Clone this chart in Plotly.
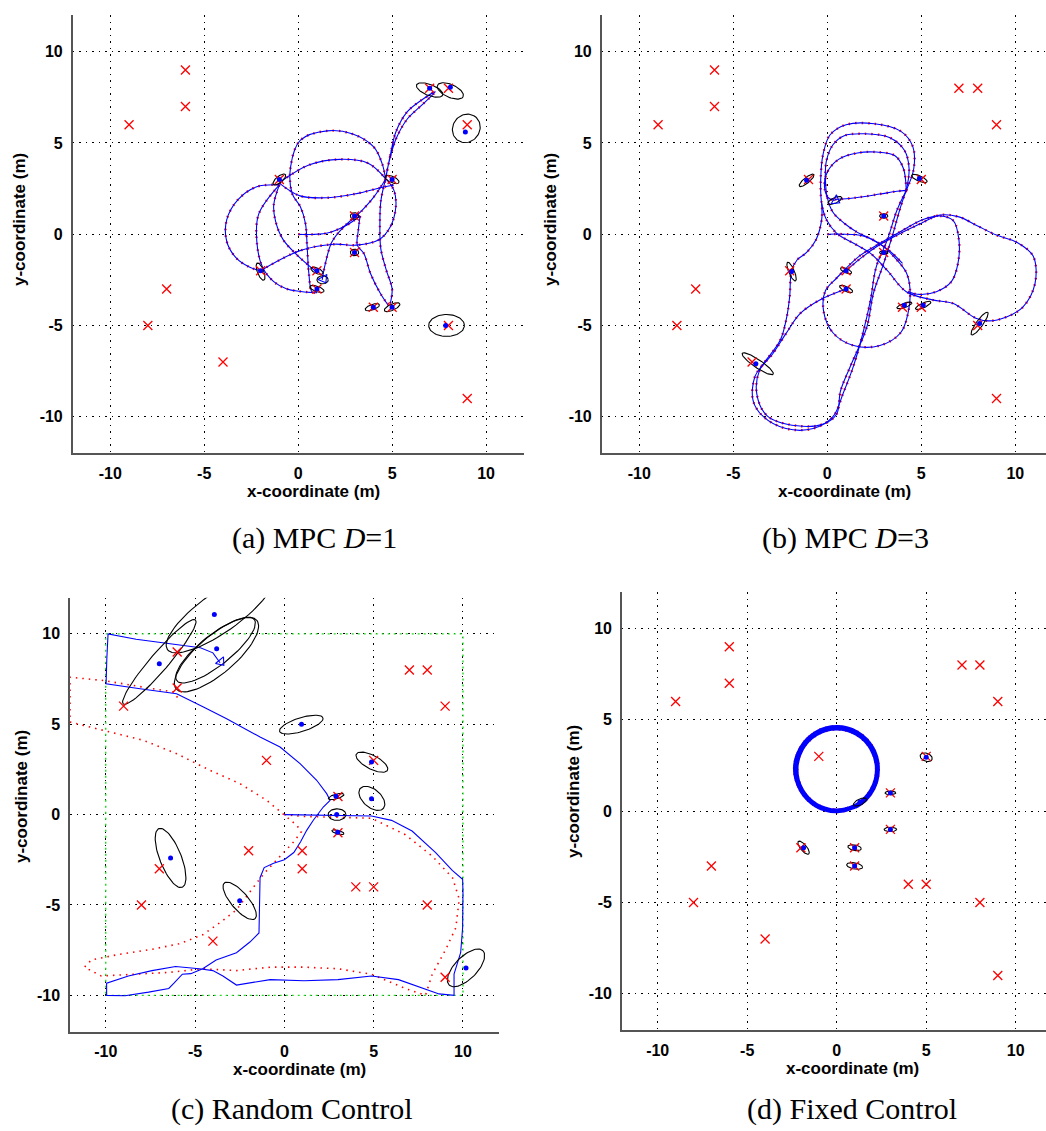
import numpy as np
import plotly.graph_objects as go

W, H = 1046, 1131

tick_vals = [-10, -5, 0, 5, 10]
tick_text = ["-10", "-5", "0", "5", "10"]

# true landmark positions (red crosses), shared by all panels
land_x = [-9, -6, -6, 7, 8, 9, -1, 5, 3, 3, -2, 1, 1, -7, -8, 4, 5, 8, -4, 9]
land_y = [6, 9, 7, 8, 8, 6, 3, 3, 1, -1, -2, -2, -3, -3, -5, -4, -4, -5, -7, -9]

# ---------------- (a) MPC D=1 ----------------
a_est_x = [7.0, 8.1, 8.9, 5.0, -1.0, 3.0, 3.0, -2.0, 1.0, 1.0, 4.0, 5.0, 7.85]
a_est_y = [8.0, 8.05, 5.6, 3.0, 3.0, 1.0, -1.0, -2.0, -2.0, -3.0, -4.0, -4.0, -5.0]
# cx, cy, semi-major, semi-minor, angle(deg)
a_ellipses = [
    (7.0, 7.9, 0.75, 0.3, -22), (8.1, 7.85, 0.75, 0.35, -25), (8.95, 5.8, 0.8, 0.72, 60),
    (5.0, 3.0, 0.4, 0.17, -25), (-1.0, 3.0, 0.42, 0.17, 40), (3.0, 1.0, 0.22, 0.18, 0),
    (3.0, -1.0, 0.22, 0.18, 0), (-2.0, -2.05, 0.5, 0.17, -70), (1.0, -2.0, 0.35, 0.15, -25),
    (1.0, -3.0, 0.4, 0.15, -20), (3.95, -4.0, 0.4, 0.15, 20), (5.0, -4.0, 0.45, 0.17, 25),
    (7.9, -5.0, 0.95, 0.6, 0), (1.3, -2.5, 0.3, 0.22, 0),
]
a_robot = [(1.35, -2.45, 150)]
a_path = [
    [(0, 0), (1.5, 0.05), (2.5, 0.45), (3.3, 1.0)],
    [(3.3, 1.0), (3.2, 0.2), (3.15, -0.6), (3.5, -1.06), (3.85, -2.15), (4.38, -3.25), (4.8, -3.9)],
    [(4.9, -3.8), (5.0, -3.0), (4.7, -2.0), (4.4, -0.8), (4.35, 0.5), (4.4, 1.8), (4.65, 3.0)],
    [(4.65, 3.0), (4.9, 4.3), (5.2, 5.6), (5.8, 6.7), (6.5, 7.3), (7.3, 7.8), (6.5, 7.0), (5.8, 6.3),
     (5.2, 5.2), (4.8, 3.8), (4.65, 3.0)],
    [(4.65, 3.05), (4.47, 3.87), (4.02, 4.78), (2.87, 5.5), (1.54, 5.66), (0.12, 5.15), (-0.4, 3.7),
     (-0.32, 2.23), (0.12, 1.5), (0.39, 0.58), (0.48, -0.69), (0.57, -2.15), (0.74, -3.16), (1.0, -3.2)],
    [(-0.9, 2.9), (0.6, 3.8), (2.2, 4.1), (3.7, 3.9), (4.65, 3.05)],
    [(-1.0, 2.8), (0.1, 2.1), (1.6, 2.0), (3.0, 2.2), (4.6, 2.6), (5.1, 2.7)],
    [(-1.0, 2.7), (-2.2, 2.6), (-3.2, 1.9), (-3.8, 0.8), (-3.8, -0.4), (-3.3, -1.3), (-2.6, -1.8), (-2.0, -2.0)],
    [(-2.0, -2.0), (0.1, -0.9), (1.9, -0.55), (3.1, -0.6), (4.3, -0.3), (4.9, 0.4), (5.2, 1.5), (5.1, 2.4), (4.7, 3.0)],
    [(-1.0, 2.7), (-1.3, 1.6), (-1.2, 0.7), (-0.8, -0.3), (0.0, -1.2), (0.9, -2.0)],
    [(-1.0, 2.7), (-2.1, 1.1), (-2.2, -0.4), (-1.9, -1.8), (-1.3, -2.6), (-0.6, -3.0), (0.8, -3.2)],
    [(3.14, 1.04), (2.43, 0.4), (1.8, -0.42), (1.45, -1.6), (1.28, -2.5)],
    [(4.65, 3.0), (4.0, 2.0), (3.4, 1.3), (3.1, 1.0)],
]

# ---------------- (b) MPC D=3 ----------------
b_est_x = [-1.1, 4.9, 3.0, 3.0, -1.9, 1.0, 1.0, 4.1, 5.1, 8.1, -3.8]
b_est_y = [2.95, 3.05, 1.0, -1.0, -2.05, -2.0, -3.0, -3.9, -3.9, -4.9, -7.1]
b_ellipses = [
    (-1.1, 2.95, 0.5, 0.15, 40), (0.4, 1.85, 0.4, 0.15, 25), (4.9, 3.05, 0.45, 0.15, -25),
    (3.0, 1.0, 0.22, 0.12, 0), (3.0, -1.0, 0.22, 0.1, 0), (-1.9, -2.05, 0.55, 0.15, -68),
    (1.0, -2.0, 0.32, 0.12, -25), (1.0, -3.0, 0.38, 0.13, -25), (4.1, -3.9, 0.42, 0.12, 20),
    (5.1, -3.9, 0.45, 0.13, 25), (8.1, -4.9, 0.75, 0.18, 55), (-3.7, -7.1, 1.0, 0.22, -35),
]
b_robot = [(0.45, 1.85, 120)]
b_path = [
    [(4.2, 2.4), (4.6, 3.6), (4.55, 4.8), (3.9, 5.65), (2.5, 6.05), (1.0, 6.0), (0.15, 5.45), (-0.22, 4.4),
     (-0.35, 3.0), (-0.3, 1.7), (-0.05, 0.8), (0.5, 0.05), (1.4, -0.5), (2.3, -1.05), (3.2, -2.0),
     (4.2, -3.15), (5.6, -3.6), (6.7, -3.8), (7.9, -4.6), (8.6, -4.75), (9.5, -4.55), (10.4, -4.0),
     (11.05, -2.7), (10.95, -1.2), (10.1, -0.45), (9.0, -0.05), (8.0, 0.45), (7.0, 0.95), (6.0, 1.05),
     (5.0, 0.6), (3.9, 0.05), (2.6, -0.7), (1.8, -1.3), (1.0, -2.0)],
    [(0, 0), (1.9, -0.1), (2.9, -0.6), (3.6, -1.3), (4.2, -2.1), (4.4, -3.0), (4.3, -4.3), (3.9, -5.4),
     (2.8, -6.1), (1.4, -6.1), (0.3, -5.4), (-0.2, -4.2), (-0.1, -3.1), (0.5, -2.4), (1.7, -1.2),
     (2.8, -0.5), (3.9, 0.15), (5.1, 0.8), (6.0, 1.0), (6.7, 0.75), (7.0, -0.3), (6.95, -1.6),
     (6.6, -2.6), (5.8, -3.15), (4.9, -3.3), (4.3, -3.15)],
    [(4.2, 2.4), (4.35, 3.6), (4.1, 4.6), (3.3, 5.3), (2.0, 5.5), (0.9, 5.4), (0.3, 4.9), (-0.05, 4.0),
     (-0.1, 3.0), (0.0, 2.0), (0.3, 1.2), (0.9, 0.6), (1.6, 0.1), (2.4, -0.3), (3.3, -0.9), (4.0, -1.6)],
    [(4.2, 2.4), (4.05, 3.6), (3.6, 4.3), (2.6, 4.5), (1.6, 4.45), (0.6, 4.1), (0.0, 3.4), (-0.15, 2.6),
     (0.05, 2.0), (0.4, 1.85)],
    [(0.4, 1.9), (1.5, 2.0), (2.8, 2.2), (3.7, 2.35), (4.2, 2.4)],
    [(4.2, 2.4), (3.7, 1.3), (3.2, -0.3), (2.6, -1.8), (2.3, -3.6), (1.9, -5.4), (1.4, -7.2), (0.85, -8.7),
     (0.3, -10.0), (-0.75, -10.65), (-2.2, -10.65), (-3.4, -10.0), (-3.95, -9.1), (-3.85, -7.8),
     (-3.4, -7.1), (-2.5, -5.8), (-2.15, -4.5), (-2.0, -3.4), (-1.9, -2.0), (-1.6, -1.4), (-1.1, -1.0),
     (-0.6, -0.3), (-0.3, 0.8), (-0.3, 1.7)],
    [(4.2, 2.4), (3.9, 1.5), (3.5, 0.05), (3.0, -1.6), (2.45, -3.25), (2.1, -5.1), (1.2, -7.3), (0.7, -8.6),
     (0.5, -9.85), (-0.2, -10.4), (-1.6, -10.5), (-3.2, -9.95), (-3.75, -8.75), (-3.6, -7.45),
     (-2.9, -6.55), (-2.2, -5.45), (-1.45, -4.35), (-0.4, -3.6), (1.0, -3.0)],
]

# ---------------- (c) Random Control ----------------
c_est_x = [-7.0, -3.92, -3.79, 0.96, 4.88, 4.88, 2.89, 2.93, 2.99, -6.37, -2.5, 10.17]
c_est_y = [8.35, 11.07, 9.17, 5.0, 2.91, 0.87, 1.01, 0.0, -0.97, -2.4, -4.77, -8.48]
c_ellipses = [
    (-7.0, 8.45, 3.08, 0.5, 49), (-3.6, 11.2, 3.6, 1.1, 35), (-3.8, 8.85, 2.95, 1.05, 40),
    (-3.85, 9.1, 2.75, 0.85, 38), (0.95, 4.98, 1.27, 0.38, 17), (4.9, 2.9, 0.98, 0.38, -27),
    (4.9, 0.9, 0.85, 0.5, -40), (2.9, 1.0, 0.45, 0.13, 15), (2.95, 0.0, 0.5, 0.32, 0),
    (3.0, -0.97, 0.35, 0.1, -15), (-6.37, -2.4, 1.75, 0.6, -68), (-2.5, -4.77, 1.31, 0.48, -49),
    (10.17, -8.48, 1.34, 0.62, 45),
]
c_robot = [(-3.55, 8.45, 140)]
c_boundary_x = [-10, 10, 10, -10, -10]
c_boundary_y = [-10, -10, 10, 10, -10]
c_est_path = [[
    (0, 0), (1.85, -0.04), (3.0, -0.08), (4.88, -0.08), (6.0, -0.32), (7.15, -0.91), (8.47, -2.1),
    (9.4, -3.09), (9.98, -3.58), (10.0, -4.28), (9.98, -6.26), (9.87, -7.64), (9.5, -8.83), (9.5, -10.0),
    (8.66, -9.92), (7.52, -9.52), (6.39, -9.13), (4.88, -8.93), (3.0, -9.13), (1.1, -9.19), (-0.79, -9.13),
    (-2.68, -9.43), (-3.44, -8.93), (-4.0, -8.63), (-4.76, -8.53), (-6.09, -8.4), (-7.41, -8.63),
    (-8.73, -8.93), (-9.95, -9.33), (-9.95, -10.0), (-8.92, -10.02), (-7.6, -9.82), (-6.47, -9.62),
    (-6.18, -9.33), (-5.71, -8.83), (-5.24, -8.8), (-4.57, -8.53), (-3.82, -8.04), (-2.68, -7.64),
    (-1.93, -7.05), (-1.42, -6.55), (-1.36, -3.49), (-1.13, -2.93), (-0.6, -2.69), (0.0, -2.5),
    (0.53, -2.1), (0.91, -1.5), (1.25, -0.87), (1.62, -0.31), (2.18, 0.42), (2.56, 0.79), (2.37, 1.16),
    (1.81, 1.9), (0.88, 2.82), (-0.24, 3.74), (-1.36, 4.29), (-3.23, 5.3), (-4.53, 5.95), (-6.03, 6.69),
    (-8.08, 6.96), (-9.98, 7.24), (-9.94, 8.6), (-9.87, 10.0), (-8.3, 9.7), (-4.7, 9.23), (-4.0, 8.95),
    (-3.6, 8.4)]]
c_true_path = [[
    (0, 0), (1.0, -0.1), (3.0, -0.15), (4.88, -0.2), (6.77, -1.11), (8.28, -2.3), (9.41, -3.49),
    (9.79, -4.67), (9.6, -6.26), (9.04, -7.45), (8.28, -8.83), (7.9, -10.0), (6.77, -9.62), (4.88, -8.83),
    (3.0, -8.53), (1.1, -8.44), (-0.79, -8.44), (-2.68, -8.63), (-4.57, -8.53), (-6.47, -8.73),
    (-8.36, -8.83), (-10.25, -8.93), (-11.19, -8.44), (-10.8, -8.04), (-9.3, -7.74), (-7.41, -7.45),
    (-5.9, -7.15), (-4.57, -6.65), (-3.44, -5.86), (-2.68, -5.27), (-1.93, -4.28), (-1.17, -3.29),
    (-0.23, -2.3), (0.53, -1.5), (0.95, -0.95), (0.7, -0.6), (0.13, -0.13), (-0.99, 0.79), (-2.48, 1.71),
    (-4.16, 2.45), (-6.03, 3.37), (-7.89, 4.11), (-10.13, 4.66), (-12.0, 5.12), (-12.0, 7.6),
    (-10.13, 7.42), (-7.89, 7.05), (-6.21, 6.78), (-5.93, 6.41)]]

# ---------------- (d) Fixed Control ----------------
d_est_x = [5.0, 3.0, 3.0, 1.0, 1.0, -1.85, 1.3]
d_est_y = [2.95, 1.0, -1.0, -2.0, -3.0, -2.0, 0.5]
d_ellipses = [
    (5.0, 2.95, 0.35, 0.22, -20), (3.0, 1.0, 0.3, 0.1, 0), (3.0, -1.0, 0.35, 0.12, 0),
    (1.0, -2.0, 0.38, 0.15, -10), (1.0, -3.0, 0.45, 0.17, -10), (-1.85, -2.0, 0.45, 0.17, -50),
    (1.3, 0.5, 0.4, 0.16, 25),
]
d_robot = []
d_path = [[
    (0.0, 0.0), (1.18, 0.26), (2.04, 1.12),
    (2.35, 2.3), (2.04, 3.48), (1.18, 4.34), (0.0, 4.65), (-1.18, 4.34), (-2.04, 3.48), (-2.35, 2.3),
    (-2.04, 1.12), (-1.18, 0.26), (0.0, -0.05), (1.13, 0.3), (1.95, 1.13),
    (2.25, 2.25), (1.95, 3.38), (1.13, 4.2), (0.0, 4.5), (-1.13, 4.2), (-1.95, 3.38), (-2.25, 2.25),
    (-1.95, 1.13), (-1.13, 0.3), (-0.05, 0.02), (1.1, 0.32), (1.96, 1.17),
    (2.27, 2.32), (1.96, 3.5), (1.1, 4.35), (-0.05, 4.6), (-1.2, 4.3), (-2.05, 3.45), (-2.38, 2.32),
    (-2.05, 1.17), (-1.2, 0.33), (0.0, 0.08), (1.1, 0.38), (1.9, 1.18),
    (2.2, 2.28), (1.9, 3.38), (1.1, 4.18), (0.0, 4.48), (-1.1, 4.18), (-1.9, 3.38), (-2.2, 2.28),
    (-1.9, 1.18), (-1.1, 0.38), (0.0, 0.08), (1.0, 0.3), (1.3, 0.45)]]


def strokes_xy(strokes):
    xs, ys = [], []
    for s in strokes:
        for x, y in s:
            xs.append(x)
            ys.append(y)
        xs.append(None)
        ys.append(None)
    return xs, ys


def ellipse_xy(ells):
    t = np.linspace(0, 2 * np.pi, 73)
    xs, ys = [], []
    for cx, cy, a, b, ang in ells:
        th = np.radians(ang)
        x = cx + a * np.cos(t) * np.cos(th) - b * np.sin(t) * np.sin(th)
        y = cy + a * np.cos(t) * np.sin(th) + b * np.sin(t) * np.cos(th)
        xs += list(x) + [None]
        ys += list(y) + [None]
    return xs, ys


fig = go.Figure()

panels = [
    dict(key="", path=a_path, true=a_path, est=(a_est_x, a_est_y), ell=a_ellipses, robot=a_robot,
         shape="spline"),
    dict(key="2", path=b_path, true=b_path, est=(b_est_x, b_est_y), ell=b_ellipses, robot=b_robot,
         shape="spline"),
    dict(key="3", path=c_est_path, true=c_true_path, est=(c_est_x, c_est_y), ell=c_ellipses,
         robot=c_robot, shape="linear", boundary=True),
    dict(key="4", path=d_path, true=d_path, est=(d_est_x, d_est_y), ell=d_ellipses, robot=d_robot,
         shape="spline"),
]

for p in panels:
    xa, ya = "x" + p["key"], "y" + p["key"]
    if p.get("boundary"):
        fig.add_trace(go.Scatter(x=c_boundary_x, y=c_boundary_y, mode="lines", xaxis=xa, yaxis=ya,
                                 line=dict(color="#22dd22", width=1.4, dash="2px,4px"),
                                 hoverinfo="skip", showlegend=False))
    tx, ty = strokes_xy(p["true"])
    fig.add_trace(go.Scatter(x=tx, y=ty, mode="lines", xaxis=xa, yaxis=ya,
                             line=dict(color="red", width=2.4 if p["key"] != "3" else 1.6,
                                       dash="1.5px,5px", shape=p["shape"]),
                             hoverinfo="skip", showlegend=False))
    bx, by = strokes_xy(p["path"])
    fig.add_trace(go.Scatter(x=bx, y=by, mode="lines", xaxis=xa, yaxis=ya,
                             line=dict(color="blue", width=2.3 if p["key"] == "4" else 1.1,
                                       shape=p["shape"]),
                             hoverinfo="skip", showlegend=False))
    ex, ey = ellipse_xy(p["ell"])
    fig.add_trace(go.Scatter(x=ex, y=ey, mode="lines", xaxis=xa, yaxis=ya,
                             line=dict(color="black", width=1.1),
                             hoverinfo="skip", showlegend=False))
    fig.add_trace(go.Scatter(x=land_x, y=land_y, mode="markers", xaxis=xa, yaxis=ya,
                             marker=dict(symbol="x-thin", size=9,
                                         line=dict(color="red", width=1.3)),
                             hoverinfo="skip", showlegend=False))
    fig.add_trace(go.Scatter(x=p["est"][0], y=p["est"][1], mode="markers", xaxis=xa, yaxis=ya,
                             marker=dict(symbol="circle", size=5, color="blue"),
                             hoverinfo="skip", showlegend=False))
    if p["robot"]:
        fig.add_trace(go.Scatter(x=[r[0] for r in p["robot"]], y=[r[1] for r in p["robot"]],
                                 mode="markers", xaxis=xa, yaxis=ya,
                                 marker=dict(symbol="triangle-up-open", size=9, color="blue",
                                             angle=[r[2] for r in p["robot"]],
                                             line=dict(color="blue", width=1.1)),
                                 hoverinfo="skip", showlegend=False))

# panel geometry in pixels
geom = {
    "": dict(x0=72.7, x1=523.6, y0=15.2, y1=453.2, xmax=12.0),
    "2": dict(x0=601.7, x1=1046, y0=15.2, y1=453.2, xmax=-12 + (1046 - 601.7) / 18.8),
    "3": dict(x0=70.0, x1=498.7, y0=597.7, y1=1031.5, xmax=12.0),
    "4": dict(x0=621.9, x1=1046, y0=592.0, y1=1030.3, xmax=-12 + (1046 - 621.9) / 17.9),
}

tickfont = dict(family="Liberation Sans, Arial", size=16, color="black")
layout = dict(width=W, height=H, margin=dict(l=0, r=0, t=0, b=0), paper_bgcolor="white",
              plot_bgcolor="white", showlegend=False)
bold_ticks = ["<b>%s</b>" % t for t in tick_text]
for k, g in geom.items():
    common = dict(tickvals=tick_vals, ticktext=bold_ticks, showgrid=True, gridcolor="black",
                  gridwidth=1, griddash="1.5px,5px", zeroline=False, showline=True,
                  linecolor="#555", linewidth=1.5, ticks="", tickfont=tickfont,
                  ticklabelstandoff=5, fixedrange=True)
    layout["xaxis" + k] = dict(common, domain=[g["x0"] / W, min(1.0, g["x1"] / W)],
                               range=[-12, g["xmax"]], anchor="y" + k)
    layout["yaxis" + k] = dict(common, domain=[1 - g["y1"] / H, 1 - g["y0"] / H],
                               range=[-12, 12], anchor="x" + k)
fig.update_layout(**layout)

title_font = dict(family="Liberation Sans, Arial", size=17, color="black")
cap_font = dict(family="Liberation Serif, Times New Roman", size=30, color="black")

# (x-title x, y-title x, y-title y, caption x, caption text)
labels = [
    ("", 313, 20, 220, 314, "(a) MPC <i>D</i>=1"),
    ("2", 844, 551, 220, 845, "(b) MPC <i>D</i>=3"),
    ("3", 299, 21, 797, 292, "(c) Random Control"),
    ("4", 852, 573, 792, 852, "(d) Fixed Control"),
]
ann = []
for k, xt, yx, yy, cx, cap in labels:
    g = geom[k]
    ann.append(dict(x=xt / W, y=1 - (g["y1"] + 38) / H, xref="paper", yref="paper",
                    text="<b>x-coordinate (m)</b>", showarrow=False, font=title_font,
                    xanchor="center", yanchor="middle"))
    ann.append(dict(x=yx / W, y=1 - yy / H, xref="paper", yref="paper",
                    text="<b>y-coordinate (m)</b>", showarrow=False, font=title_font,
                    textangle=-90, xanchor="center", yanchor="middle"))
    cy = min(g["y1"] + 85, 1109)
    ann.append(dict(x=cx / W, y=1 - cy / H, xref="paper", yref="paper",
                    text=cap, showarrow=False, font=cap_font,
                    xanchor="center", yanchor="middle"))
fig.update_layout(annotations=ann)

fig.write_html("out.html")
